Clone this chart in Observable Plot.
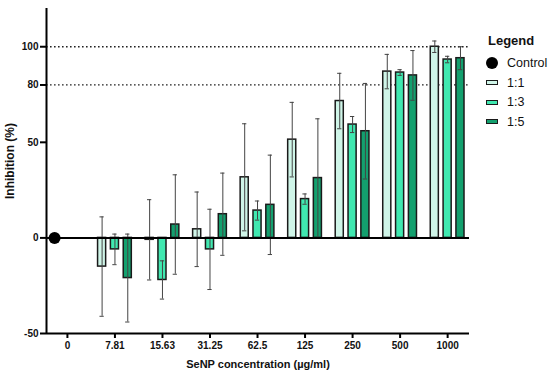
<!DOCTYPE html>
<html>
<head>
<meta charset="utf-8">
<script src="https://cdn.jsdelivr.net/npm/d3@7"></script>
<script src="https://cdn.jsdelivr.net/npm/@observablehq/plot@0.6"></script>
<style>
  body { margin: 0; background: #fff; font-family: "Liberation Sans", Arial, sans-serif; }
  #wrap { position: relative; width: 550px; height: 376px; }
  #legend { position: absolute; left: 485px; top: 33px; font-size: 12.5px; color: #111; }
  #legend .title { font-weight: bold; font-size: 13px; margin-left: 3px; margin-bottom: 5px; }
  #legend .item { display: flex; align-items: center; height: 19.7px; }
  #legend .sw { width: 13px; display: flex; justify-content: center; margin-right: 9px; }
</style>
</head>
<body>
<div id="wrap"><div id="legend"></div></div>
<script>
// ---- data ----
const categories = ["0", "7.81", "15.63", "31.25", "62.5", "125", "250", "500", "1000"];
const seriesNames = ["1:1", "1:3", "1:5"];
const mean11 = [null, -15, -1, 4.5, 31.7, 51.4, 71.6, 87, 100];
const sd11   = [null, 26, 21, 19.5, 28, 19.5, 14.5, 9, 3];
const mean13 = [null, -6, -22, -6, 14.3, 20.3, 59.3, 86.5, 93.3];
const sd13   = [null, 8, 10, 21, 5, 2.7, 4.2, 1.5, 1.7];
const mean15 = [null, -21, 7, 12.4, 17.3, 31.3, 55.8, 85, 94];
const sd15   = [null, 23, 26, 21.5, 26, 31, 25, 13, 6];
const controlCategory = ["0"];
const controlValue = [0];
const yTicks = [-50, 0, 50, 80, 100];
const refLines = [80, 100];
const colors = ["#cff5e8", "#40e8b0", "#13a06e"];

// ---- layout ----
const groupOffset = [-0.27, 0, 0.27];
const halfBar = 0.085;
const capHalf = 0.045;
const xDomain = [-0.44, 8.46];
const yDomain = [-50, 120];

const means = [mean11, mean13, mean15];
const sds = [sd11, sd13, sd15];
const rows = [];
seriesNames.forEach((s, k) => {
  categories.forEach((c, i) => {
    if (means[k][i] == null) return;
    rows.push({i, k, s, mean: means[k][i], sd: sds[k][i]});
  });
});
const ctrl = controlCategory.map((c, j) => ({i: categories.indexOf(c), v: controlValue[j]}));
const cx = d => d.i + groupOffset[d.k];

const font = "'Liberation Sans', Arial, sans-serif";

const chart = Plot.plot({
  width: 550, height: 376,
  marginLeft: 46, marginRight: 81, marginTop: 8, marginBottom: 43,
  style: {fontFamily: font, background: "white"},
  x: {type: "linear", domain: xDomain, axis: null},
  y: {domain: yDomain, axis: null},
  marks: [
    Plot.ruleY(refLines, {stroke: "#222", strokeWidth: 1.3, strokeDasharray: "1.6,2.4"}),
    Plot.rectY(rows, {
      x1: d => cx(d) - halfBar, x2: d => cx(d) + halfBar, y: "mean",
      fill: d => colors[d.k], stroke: "#1a1a1a", strokeWidth: 1.5
    }),
    Plot.ruleX(rows, {x: cx, y1: d => d.mean - d.sd, y2: d => d.mean + d.sd, stroke: "#444", strokeWidth: 1}),
    Plot.ruleY(rows, {y: d => d.mean + d.sd, x1: d => cx(d) - capHalf, x2: d => cx(d) + capHalf, stroke: "#444", strokeWidth: 1}),
    Plot.ruleY(rows, {y: d => d.mean - d.sd, x1: d => cx(d) - capHalf, x2: d => cx(d) + capHalf, stroke: "#444", strokeWidth: 1}),
    Plot.ruleY([0], {stroke: "black", strokeWidth: 2}),
    Plot.ruleY([yDomain[0]], {stroke: "black", strokeWidth: 2}),
    Plot.ruleX([xDomain[0]], {stroke: "black", strokeWidth: 2}),
    Plot.dot(ctrl, {x: d => d.i + groupOffset[0], y: "v", r: 6, fill: "black", stroke: "none"}),
    Plot.axisX({
      ticks: d3.range(categories.length), tickFormat: i => categories[i],
      tickSize: 5, tickPadding: 3, strokeWidth: 2, stroke: "black",
      fontSize: 10, fontWeight: "bold", fill: "#111", label: null
    }),
    Plot.axisY({
      ticks: yTicks, tickFormat: d => String(d),
      tickSize: 6, tickPadding: 2, strokeWidth: 2, stroke: "black",
      fontSize: 10, fontWeight: "bold", fill: "#111", label: null
    }),
    Plot.text(["SeNP concentration (µg/ml)"], {
      frameAnchor: "bottom", lineAnchor: "middle", dy: 31, fontSize: 11, fontWeight: "bold", fill: "#111"
    }),
    Plot.text(["Inhibition (%)"], {
      frameAnchor: "left", textAnchor: "middle", lineAnchor: "middle", dx: -36, dy: -10, rotate: -90,
      fontSize: 12, fontWeight: "bold", fill: "#111"
    })
  ]
});
document.getElementById("wrap").prepend(chart);

// ---- legend ----
const lg = d3.select("#legend");
lg.append("div").attr("class", "title").text("Legend");
const ci = lg.append("div").attr("class", "item");
ci.append("div").attr("class", "sw").append("div")
  .style("width", "12px").style("height", "12px").style("border-radius", "50%").style("background", "black");
ci.append("span").text("Control");
seriesNames.forEach((s, k) => {
  const it = lg.append("div").attr("class", "item");
  it.append("div").attr("class", "sw").append("div")
    .style("width", "10px").style("height", "3px")
    .style("border", "1.5px solid #1a1a1a").style("background", colors[k]);
  it.append("span").text(s);
});
</script>
</body>
</html>
